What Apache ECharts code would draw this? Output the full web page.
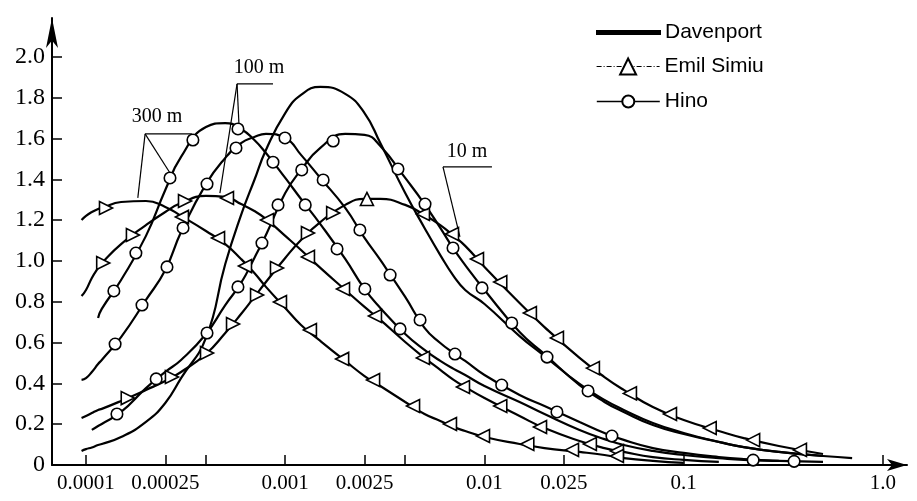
<!DOCTYPE html>
<html>
<head>
<meta charset="utf-8">
<script src="https://cdn.jsdelivr.net/npm/echarts@6/dist/echarts.min.js"></script>
<style>html,body{margin:0;padding:0;background:#fff}#c{width:917px;height:501px}</style>
</head>
<body>
<div id="c"></div>
<script>
// ---- data ----
const freqGrid = [0.000095, 0.0001, 0.000107, 0.000115, 0.00012, 0.00015, 0.0002, 0.00025, 0.0003, 0.0004,
  0.0005, 0.0006, 0.0007, 0.0008, 0.001, 0.0012, 0.0015, 0.002, 0.0025, 0.003,
  0.004, 0.005, 0.006, 0.007, 0.008, 0.01, 0.015, 0.02, 0.03, 0.04,
  0.05, 0.07, 0.1, 0.15, 0.2, 0.3, 0.5, 0.7];

const davenport = [0.069, 0.078, 0.086, 0.098, 0.103, 0.137, 0.211, 0.304, 0.426, 0.623,
  0.985, 1.225, 1.397, 1.544, 1.725, 1.814, 1.853, 1.819, 1.725, 1.578,
  1.333, 1.162, 1.029, 0.926, 0.858, 0.789, 0.632, 0.534, 0.397, 0.319,
  0.270, 0.206, 0.157, 0.113, 0.088, 0.064, 0.044, 0.034];

const simiu10 = [0.230, 0.240, 0.255, 0.270, 0.275, 0.314, 0.368, 0.412, 0.456, 0.544,
  0.647, 0.740, 0.824, 0.897, 1.015, 1.103, 1.191, 1.275, 1.304, 1.304,
  1.275, 1.225, 1.176, 1.123, 1.074, 0.971, 0.794, 0.676, 0.525, 0.431,
  0.368, 0.284, 0.221, 0.167, 0.132, 0.093, 0.054, null];
const simiu100 = [0.828, 0.858, 0.917, 0.966, 0.990, 1.083, 1.176, 1.240, 1.284, 1.319,
  1.314, 1.279, 1.245, 1.206, 1.123, 1.054, 0.966, 0.858, 0.775, 0.711,
  0.603, 0.525, 0.466, 0.417, 0.382, 0.328, 0.240, 0.181, 0.118, 0.083,
  0.064, 0.039, 0.025, 0.015, null, null, null, null];
const simiu300 = [1.201, 1.221, 1.240, 1.255, 1.260, 1.289, 1.294, 1.265, 1.221, 1.147,
  1.083, 1.010, 0.941, 0.873, 0.770, 0.686, 0.608, 0.510, 0.436, 0.387,
  0.309, 0.250, 0.216, 0.186, 0.167, 0.137, 0.103, 0.083, 0.064, 0.049,
  0.034, 0.020, 0.010, null, null, null, null, null];

const hino10 = [null, null, 0.172, 0.191, 0.201, 0.260, 0.377, 0.456, 0.515, 0.642,
  0.784, 0.892, 1.015, 1.127, 1.333, 1.446, 1.554, 1.623, 1.618, 1.564,
  1.407, 1.279, 1.162, 1.059, 0.980, 0.858, 0.652, 0.544, 0.392, 0.309,
  0.260, 0.196, 0.152, 0.113, 0.088, 0.064, 0.044, null];
const hino100 = [0.417, 0.426, 0.456, 0.495, 0.515, 0.627, 0.809, 0.956, 1.142, 1.377,
  1.505, 1.578, 1.608, 1.623, 1.603, 1.520, 1.407, 1.260, 1.113, 1.005,
  0.824, 0.672, 0.598, 0.549, 0.510, 0.441, 0.343, 0.289, 0.211, 0.157,
  0.123, 0.083, 0.059, 0.039, 0.029, 0.020, null, null];
const hino300 = [null, null, null, 0.721, 0.765, 0.907, 1.123, 1.348, 1.510, 1.657,
  1.676, 1.647, 1.593, 1.529, 1.407, 1.304, 1.181, 1.010, 0.863, 0.770,
  0.642, 0.564, 0.510, 0.471, 0.441, 0.387, 0.309, 0.250, 0.172, 0.127,
  0.098, 0.069, 0.049, 0.034, 0.025, 0.020, 0.015, null];

// marker points [frequency, value]
const simiu10Marks = [[0.000162,0.328],[0.00027,0.431],[0.000405,0.549],[0.000547,0.691],[0.000722,0.833],
  [0.000909,0.966],[0.0013,1.137],[0.00174,1.235],[0.00257,1.304],[0.00491,1.230],[0.00687,1.132],
  [0.00917,1.010],[0.012,0.897],[0.0169,0.745],[0.0231,0.623],[0.035,0.475],[0.0537,0.351],
  [0.0853,0.250],[0.135,0.181],[0.223,0.122],[0.383,0.074]];
const simiu100Marks = [[0.000122,0.990],[0.000172,1.127],[0.000314,1.294],[0.00051,1.309],[0.00081,1.201],
  [0.0013,1.020],[0.00195,0.863],[0.00282,0.730],[0.00491,0.525],[0.0078,0.382],[0.012,0.289],
  [0.019,0.186],[0.0338,0.103],[0.0462,0.069]];
const simiu300Marks = [[0.000126,1.260],[0.000303,1.216],[0.00046,1.113],[0.000628,0.975],[0.000941,0.799],
  [0.00133,0.662],[0.00193,0.520],[0.00276,0.417],[0.00438,0.289],[0.00671,0.201],[0.00983,0.142],
  [0.0164,0.103],[0.0275,0.074],[0.0462,0.044]];
const hino10Marks = [[0.000143,0.250],[0.000225,0.422],[0.000405,0.647],[0.000579,0.873],[0.000764,1.088],
  [0.00092,1.275],[0.00121,1.446],[0.00174,1.588],[0.00368,1.451],[0.00503,1.279],[0.00695,1.064],
  [0.00972,0.868],[0.0137,0.696],[0.0206,0.529],[0.0331,0.363]];
const hino100Marks = [[0.00014,0.593],[0.000191,0.784],[0.000255,0.971],[0.000307,1.162],[0.000405,1.377],
  [0.000566,1.554],[0.000997,1.603],[0.00155,1.397],[0.00237,1.152],[0.00336,0.931],[0.00475,0.711],
  [0.00711,0.544],[0.0122,0.392],[0.0231,0.260],[0.0436,0.142]];
const hino300Marks = [[0.000138,0.853],[0.000178,1.039],[0.000264,1.407],[0.000344,1.593],[0.000579,1.647],
  [0.000868,1.484],[0.00126,1.275],[0.00182,1.059],[0.00251,0.863],[0.00377,0.667],[0.223,0.024],[0.358,0.018]];

// axis ticks
const xTickValues = [0.0001, 0.00025, 0.001, 0.0025, 0.01, 0.025, 0.1, 1.0];
const xTickLabels = ['0.0001', '0.00025', '0.001', '0.0025', '0.01', '0.025', '0.1', '1.0'];
const xExtraTicks = [0.0004, 0.004];
const yTickValues = [0, 0.2, 0.4, 0.6, 0.8, 1.0, 1.2, 1.4, 1.6, 1.8, 2.0];
const legendNames = ['Davenport', 'Emil Simiu', 'Hino'];

// height annotations: [frequency, value]
const heightLabels = ['300 m', '100 m', '10 m'];
const heightLabelAt = [[0.000227,1.706],[0.000738,1.946],[0.00817,1.534]];
const heightBars = [[[0.000198,1.623],[0.00034,1.623]], [[0.000573,1.868],[0.000868,1.868]], [[0.00619,1.461],[0.0109,1.461]]];
const heightLeaders = [[[0.000182,1.309],[0.000264,1.431]], [[0.000586,1.667],[0.00047,1.333]], [[0.00753,1.118]]];

// ---- chart ----
const lg = Math.log10;
function curve(vals) { const d = []; vals.forEach((v, i) => { if (v != null) d.push([lg(freqGrid[i]), v]); }); return d; }
function peakF(vals) { let bi = -1; vals.forEach((v, i) => { if (v != null && (bi < 0 || v > vals[bi])) bi = i; }); return freqGrid[bi]; }

const curves = [
  {name: legendNames[0], vals: davenport, marks: null, sym: 'none'},
  {name: legendNames[1], vals: simiu10, marks: simiu10Marks, sym: 'triangle'},
  {name: legendNames[1], vals: simiu100, marks: simiu100Marks, sym: 'triangle'},
  {name: legendNames[1], vals: simiu300, marks: simiu300Marks, sym: 'triangle'},
  {name: legendNames[2], vals: hino10, marks: hino10Marks, sym: 'circle'},
  {name: legendNames[2], vals: hino100, marks: hino100Marks, sym: 'circle'},
  {name: legendNames[2], vals: hino300, marks: hino300Marks, sym: 'circle'}
];

const series = [];
curves.forEach(c => {
  series.push({
    type: 'line', name: c.name, data: curve(c.vals), smooth: 0.5,
    symbol: c.sym, showSymbol: false, silent: true, z: 2,
    lineStyle: {color: '#000', width: 2.2},
    itemStyle: {color: c.sym === 'none' ? '#000' : '#fff', borderColor: '#000', borderWidth: 1.6},
    emphasis: {disabled: true}
  });
});
curves.forEach(c => {
  if (!c.marks) return;
  const pk = lg(peakF(c.vals));
  series.push({
    type: 'scatter', name: c.name, symbol: c.sym, symbolSize: c.sym === 'triangle' ? 13 : 11.5,
    silent: true, z: 3,
    itemStyle: {color: '#fff', borderColor: '#000', borderWidth: 1.6, opacity: 1},
    emphasis: {disabled: true},
    data: c.marks.map(([f, v]) => {
      let rot = 0;
      if (c.sym === 'triangle') {
        const dx = lg(f) - pk;
        rot = Math.abs(dx) < 0.06 ? 0 : (dx < 0 ? -90 : 90);
      }
      return {value: [lg(f), v], symbolRotate: rot};
    })
  });
});

const legendText = {fontFamily: 'Liberation Sans', fontSize: 21, color: '#000'};
const option = {
  animation: false,
  backgroundColor: '#fff',
  grid: {left: 52, right: 10, top: 18, bottom: 36},
  legend: [
    {data: [{name: legendNames[0], icon: 'rect'}], left: 591, top: 17, itemWidth: 63, itemHeight: 3, selectedMode: false, textStyle: legendText},
    {data: [legendNames[1]], left: 591, top: 51, itemWidth: 63, itemHeight: 20, selectedMode: false, textStyle: legendText,
     lineStyle: {type: [5, 2, 1, 2], width: 1.2}},
    {data: [legendNames[2]], left: 591, top: 86, itemWidth: 63, itemHeight: 15, selectedMode: false, textStyle: legendText,
     lineStyle: {width: 1.6}}
  ],
  xAxis: {
    type: 'value', min: -4.1706, max: 0.1205,
    axisLine: {show: true, onZero: false, lineStyle: {color: '#000', width: 2}, symbol: ['none', 'arrow'], symbolSize: [9, 20]},
    axisTick: {show: true, inside: true, length: 10, lineStyle: {color: '#000', width: 1.5},
      customValues: xTickValues.concat(xExtraTicks).map(lg)},
    axisLabel: {
      customValues: xTickValues.map(lg), margin: 8, color: '#000',
      fontFamily: 'Liberation Serif', fontSize: 21,
      formatter: function (v) {
        for (let i = 0; i < xTickValues.length; i++) if (Math.abs(lg(xTickValues[i]) - v) < 1e-6) return xTickLabels[i];
        return '';
      }
    },
    splitLine: {show: false}
  },
  yAxis: {
    type: 'value', min: 0, max: 2.191,
    axisLine: {show: true, onZero: false, lineStyle: {color: '#000', width: 2}, symbol: ['none', 'arrow'], symbolSize: [9, 30]},
    axisTick: {show: true, inside: true, length: 10, lineStyle: {color: '#000', width: 1.5}, customValues: yTickValues},
    axisLabel: {customValues: yTickValues, margin: 7, color: '#000', fontFamily: 'Liberation Serif', fontSize: 24,
      formatter: v => (v === 0 ? '0' : v.toFixed(1))},
    splitLine: {show: false}
  },
  series: series
};

const chart = echarts.init(document.getElementById('c'));
chart.setOption(option);

// annotations for measuring heights
const px = (p) => chart.convertToPixel({gridIndex: 0}, [lg(p[0]), p[1]]);
const graphics = [];
heightLabels.forEach((t, i) => {
  const at = px(heightLabelAt[i]);
  graphics.push({type: 'text', x: at[0], y: at[1], silent: true,
    style: {text: t, font: '20px "Liberation Serif"', fill: '#000', align: 'center', verticalAlign: 'middle'}});
  const b0 = px(heightBars[i][0]), b1 = px(heightBars[i][1]);
  graphics.push({type: 'polyline', silent: true, shape: {points: [b0, b1]}, style: {stroke: '#000', lineWidth: 1.2, fill: null}});
  heightLeaders[i].forEach(p => {
    graphics.push({type: 'polyline', silent: true, shape: {points: [b0, px(p)]}, style: {stroke: '#000', lineWidth: 1.2, fill: null}});
  });
});
chart.setOption({graphic: graphics});
</script>
</body>
</html>
